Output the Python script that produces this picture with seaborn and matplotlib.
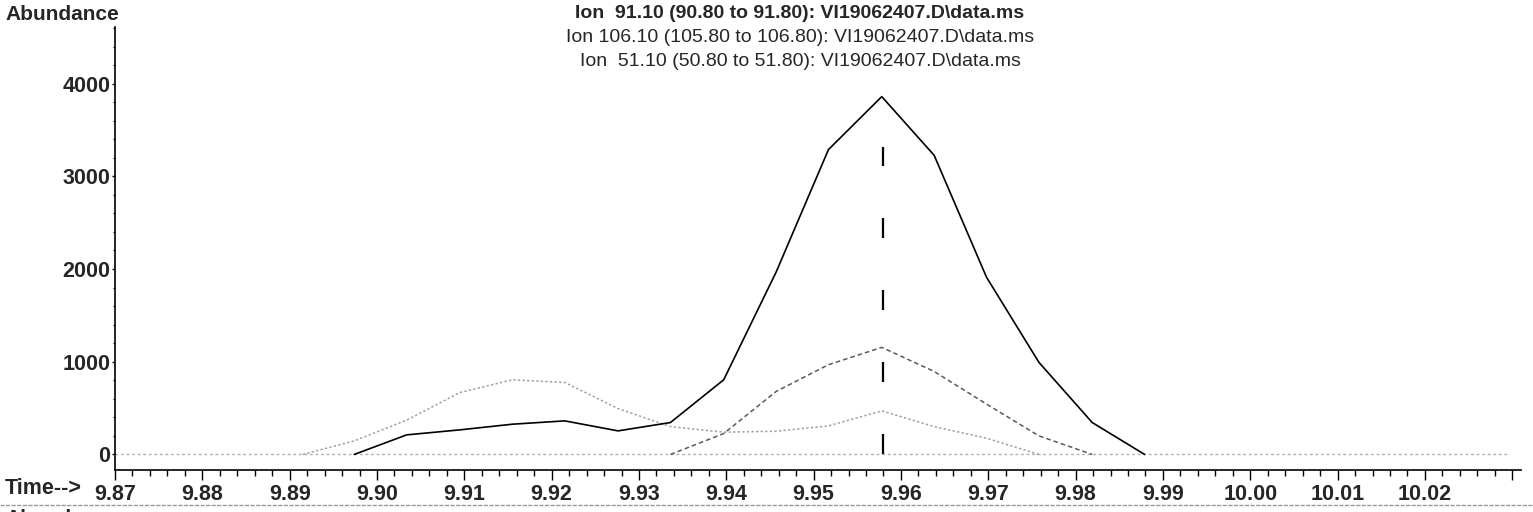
import numpy as np
import pandas as pd
import matplotlib
matplotlib.use("Agg")
import matplotlib.pyplot as plt
import seaborn as sns
from matplotlib.ticker import MultipleLocator, FixedLocator

# ---------------- data ----------------
scan_time = [9.8915, 9.8974, 9.9034, 9.9095, 9.9155, 9.9215, 9.9276, 9.9336, 9.9397,
             9.9457, 9.9517, 9.9578, 9.9638, 9.9698, 9.9758, 9.9819, 9.9879]
ion_91 = [np.nan, 0, 211, 265, 326, 362, 254, 344, 805, 1966, 3289, 3860, 3227, 1911, 993, 344, 0]
ion_106 = [np.nan, np.nan, np.nan, np.nan, np.nan, np.nan, np.nan,
           0, 225, 679, 968, 1155, 895, 543, 200, 0, np.nan]
ion_51 = [0, 146, 370, 668, 805, 776, 495, 300, 240, 250, 308, 470, 300, 175, 0, np.nan, np.nan]

title_lines = ["Ion  91.10 (90.80 to 91.80): VI19062407.D\\data.ms",
               "Ion 106.10 (105.80 to 106.80): VI19062407.D\\data.ms",
               "Ion  51.10 (50.80 to 51.80): VI19062407.D\\data.ms"]
peak_rt = 9.958
peak_label = "9.958"
peak_marker_top = 3320
x_ticks = [9.87, 9.88, 9.89, 9.90, 9.91, 9.92, 9.93, 9.94, 9.95, 9.96, 9.97, 9.98,
           9.99, 10.00, 10.01, 10.02, 10.03]
x_tick_labels = ["9.87", "9.88", "9.89", "9.90", "9.91", "9.92", "9.93", "9.94", "9.95",
                 "9.96", "9.97", "9.98", "9.99", "10.00", "10.01", "10.02", ""]
y_ticks = [0, 1000, 2000, 3000, 4000]
y_tick_labels = ["0", "1000", "2000", "3000", "4000"]

# ---------------- style ----------------
sns.set_style("white")
plt.rcParams["font.family"] = ["Liberation Sans", "DejaVu Sans"]

W, H = 1533, 512
fig = plt.figure(figsize=(W / 100, H / 100), dpi=100)
ax_l, ax_r, ax_t, ax_b = 115, 1521, 27, 470
ax = fig.add_axes([ax_l / W, 1 - ax_b / H, (ax_r - ax_l) / W, (ax_b - ax_t) / H])

df = pd.DataFrame({"time": scan_time, "ion91": ion_91, "ion106": ion_106, "ion51": ion_51})

# baseline
ax.axhline(0, xmin=0, xmax=0.99, color="#b0b0b0", lw=1.0, ls=(0, (2, 2)), zorder=1)

d51 = df[["time", "ion51"]].dropna()
sns.lineplot(data=d51, x="time", y="ion51", ax=ax, color="#a0a0a0", lw=1.1,
             linestyle=(0, (1.5, 1.5)), estimator=None, sort=False, zorder=2)
d106 = df[["time", "ion106"]].dropna()
sns.lineplot(data=d106, x="time", y="ion106", ax=ax, color="#5a5a5a", lw=1.1,
             linestyle=(0, (3, 2)), estimator=None, sort=False, zorder=3)
d91 = df[["time", "ion91"]].dropna()
sns.lineplot(data=d91, x="time", y="ion91", ax=ax, color="#000000", lw=1.2,
             estimator=None, sort=False, zorder=4)

# peak marker
ax.vlines(peak_rt, 0, peak_marker_top, color="black", lw=1.6,
          linestyles=[(0, (9.0, 23.4))], zorder=5)
ax.annotate(peak_label, xy=(peak_rt, max(ion_91)), xytext=(0, 3), textcoords="offset points",
            ha="center", va="bottom", fontsize=14, fontweight="bold")

# axes
ax.set_xlim(9.87, 10.031)
ax.set_ylim(-168, 4611)
ax.set_xlabel("")
ax.set_ylabel("")
for s in ["top", "right"]:
    ax.spines[s].set_visible(False)
for s in ["left", "bottom"]:
    ax.spines[s].set_color("black")
    ax.spines[s].set_linewidth(1.2)

ax.xaxis.set_major_locator(FixedLocator(x_ticks))
ax.set_xticklabels(x_tick_labels, fontsize=15.5, fontweight="bold")
ax.xaxis.set_minor_locator(MultipleLocator(0.002))
ax.set_yticks(y_ticks)
ax.set_yticklabels(y_tick_labels, fontsize=15.5, fontweight="bold")
ax.yaxis.set_minor_locator(MultipleLocator(200))
ax.tick_params(axis="x", which="major", direction="out", length=7, width=1, pad=3,
               bottom=True, color="black")
ax.tick_params(axis="x", which="minor", direction="out", length=4, width=1,
               bottom=True, color="black")
ax.tick_params(axis="y", which="major", direction="out", length=2.5, width=1, pad=1,
               left=True, color="black")
ax.tick_params(axis="y", which="minor", direction="out", length=1.5, width=0.8,
               left=True, color="black")

# texts
fig.text(5 / W, 1 - 14 / H, "Abundance", ha="left", va="center", fontsize=15, fontweight="bold")
fig.text(800 / W, 1 - 14 / H, title_lines[0], ha="center", va="center", fontsize=14, fontweight="bold")
fig.text(800 / W, 1 - 38 / H, title_lines[1], ha="center", va="center", fontsize=14)
fig.text(800 / W, 1 - 61 / H, title_lines[2], ha="center", va="center", fontsize=14)
fig.text(5 / W, 1 - 488 / H, "Time-->", ha="left", va="center", fontsize=15.5, fontweight="bold")
fig.text(5 / W, 1 - 518 / H, "Abundance", ha="left", va="center", fontsize=15, fontweight="bold")
fig.add_artist(plt.Line2D([0, 1], [1 - 505 / H, 1 - 505 / H], color="#9a9a9a", lw=1.0,
                          ls=(0, (3, 1))))

fig.savefig("out.png", dpi=100)
